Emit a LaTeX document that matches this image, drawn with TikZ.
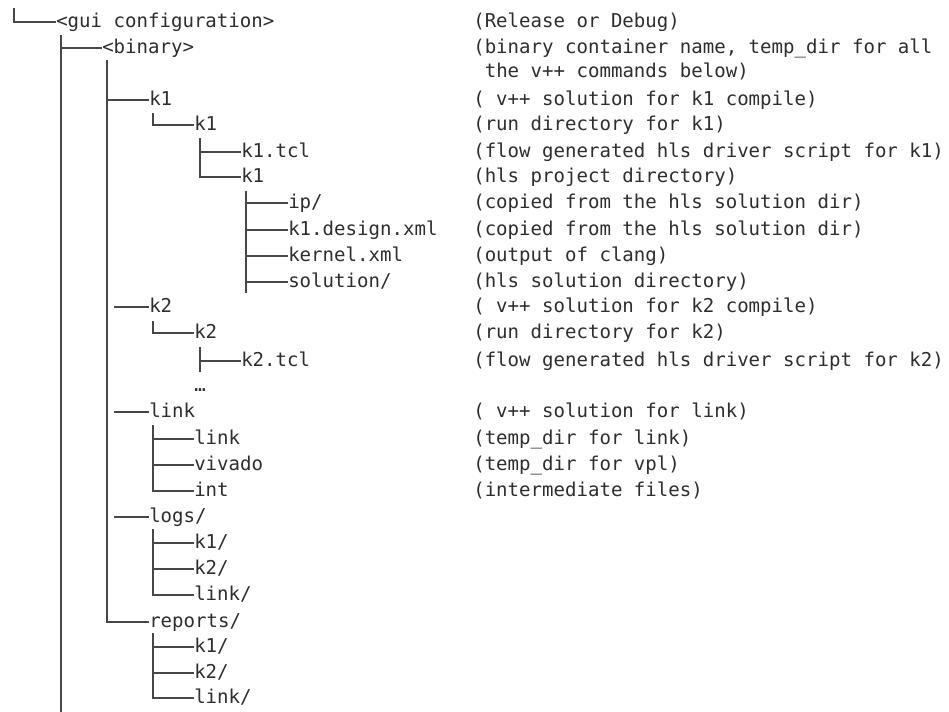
\documentclass[tikz,border=0pt]{standalone}
\usepackage{fontspec}
\newfontfamily\treefont{DejaVu Sans Mono}
\usetikzlibrary{calc}
\begin{document}
\begin{tikzpicture}[x=0.75pt,y=-0.75pt,
  lbl/.style={anchor=west,inner sep=0pt,text height=7.8pt,text depth=0pt,
    font=\treefont\fontsize{14.3}{17}\selectfont,text=black!82},
  br/.style={draw=black!72,line width=1.4pt}]
\fill[white] (0,0) rectangle (949,711);
\useasboundingbox (0,0) rectangle (949,711);
% tree labels
\node[lbl] (gui)  at (56,22)  {<gui configuration>};
\node[lbl] (bin)  at (102,48) {<binary>};
\node[lbl] (k1a)  at (149,100) {k1};
\node[lbl] (k1b)  at (194,125) {k1};
\node[lbl] (tcl1) at (241,152) {k1.tcl};
\node[lbl] (k1c)  at (241,177) {k1};
\node[lbl] (ip)   at (288,203) {ip/};
\node[lbl] (dxml) at (288,230) {k1.design.xml};
\node[lbl] (kxml) at (288,256) {kernel.xml};
\node[lbl] (sol)  at (288,282) {solution/};
\node[lbl] (k2a)  at (149,307) {k2};
\node[lbl] (k2b)  at (194,333) {k2};
\node[lbl] (tcl2) at (241,361) {k2.tcl};
\node[lbl] (dots) at (194,386) {…};
\node[lbl] (lnk)  at (149,412) {link};
\node[lbl] (lnkl) at (194,439) {link};
\node[lbl] (viv)  at (194,465) {vivado};
\node[lbl] (int)  at (194,491) {int};
\node[lbl] (logs) at (149,517) {logs/};
\node[lbl] (lgk1) at (194,543) {k1/};
\node[lbl] (lgk2) at (194,569) {k2/};
\node[lbl] (lgln) at (194,595) {link/};
\node[lbl] (rep)  at (149,622) {reports/};
\node[lbl] (rpk1) at (194,647) {k1/};
\node[lbl] (rpk2) at (194,673) {k2/};
\node[lbl] (rpln) at (194,698) {link/};
% descriptions
\node[lbl] (d1)  at (473,22)  {(Release or Debug)};
\node[lbl] (d2)  at (473,48)  {(binary container name, temp\_dir for all};
\node[lbl] (d2b) at (484.5,72) {the v++ commands below)};
\node[lbl] (d3)  at (473,100) {( v++ solution for k1 compile)};
\node[lbl] (d4)  at (473,125) {(run directory for k1)};
\node[lbl] (d5)  at (473,152) {(flow generated hls driver script for k1)};
\node[lbl] (d6)  at (473,177) {(hls project directory)};
\node[lbl] (d7)  at (473,203) {(copied from the hls solution dir)};
\node[lbl] (d8)  at (473,230) {(copied from the hls solution dir)};
\node[lbl] (d9)  at (473,256) {(output of clang)};
\node[lbl] (d10) at (473,282) {(hls solution directory)};
\node[lbl] (d11) at (473,307) {( v++ solution for k2 compile)};
\node[lbl] (d12) at (473,333) {(run directory for k2)};
\node[lbl] (d13) at (473,361) {(flow generated hls driver script for k2)};
\node[lbl] (d14) at (473,412) {( v++ solution for link)};
\node[lbl] (d15) at (473,439) {(temp\_dir for link)};
\node[lbl] (d16) at (473,465) {(temp\_dir for vpl)};
\node[lbl] (d17) at (473,491) {(intermediate files)};
% connectors
\coordinate (r0) at (14,8);
\draw[br] (r0) |- (gui.west);
\coordinate (v1t) at (61,35);
\coordinate (v1b) at (61,712);
\draw[br] (v1t) -- (v1b);
\draw[br] (bin.west -| v1t) -- (bin.west);
\coordinate (v2t) at (107,60);
\draw[br] (v2t) |- (rep.west);
\draw[br] (k1a.west -| v2t) -- (k1a.west);
\draw[br] ($(k2a.west -| v2t)+(7,0)$) -- (k2a.west);
\draw[br] ($(lnk.west -| v2t)+(7,0)$) -- (lnk.west);
\draw[br] ($(logs.west -| v2t)+(7,0)$) -- (logs.west);
\coordinate (v3t) at (153,113);
\draw[br] (v3t) |- (k1b.west);
\coordinate (v4t) at (200,138);
\draw[br] (v4t) |- (k1c.west);
\draw[br] (tcl1.west -| v4t) -- (tcl1.west);
\coordinate (v5t) at (246,191);
\coordinate (v5b) at (246,293);
\draw[br] (v5t) -- (v5b);
\foreach \n in {ip,dxml,kxml,sol} \draw[br] (\n.west -| v5t) -- (\n.west);
\coordinate (v6t) at (153,321);
\draw[br] (v6t) |- (k2b.west);
\coordinate (v7t) at (200,347);
\coordinate (v7b) at (200,372);
\draw[br] (v7t) -- (v7b);
\draw[br] (tcl2.west -| v7t) -- (tcl2.west);
\coordinate (v8t) at (153,425);
\draw[br] (v8t) |- (int.west);
\foreach \n in {lnkl,viv} \draw[br] (\n.west -| v8t) -- (\n.west);
\coordinate (v9t) at (153,529);
\draw[br] (v9t) |- (lgln.west);
\foreach \n in {lgk1,lgk2} \draw[br] (\n.west -| v9t) -- (\n.west);
\coordinate (v10t) at (153,633);
\draw[br] (v10t) |- (rpln.west);
\foreach \n in {rpk1,rpk2} \draw[br] (\n.west -| v10t) -- (\n.west);
\end{tikzpicture}
\end{document}
